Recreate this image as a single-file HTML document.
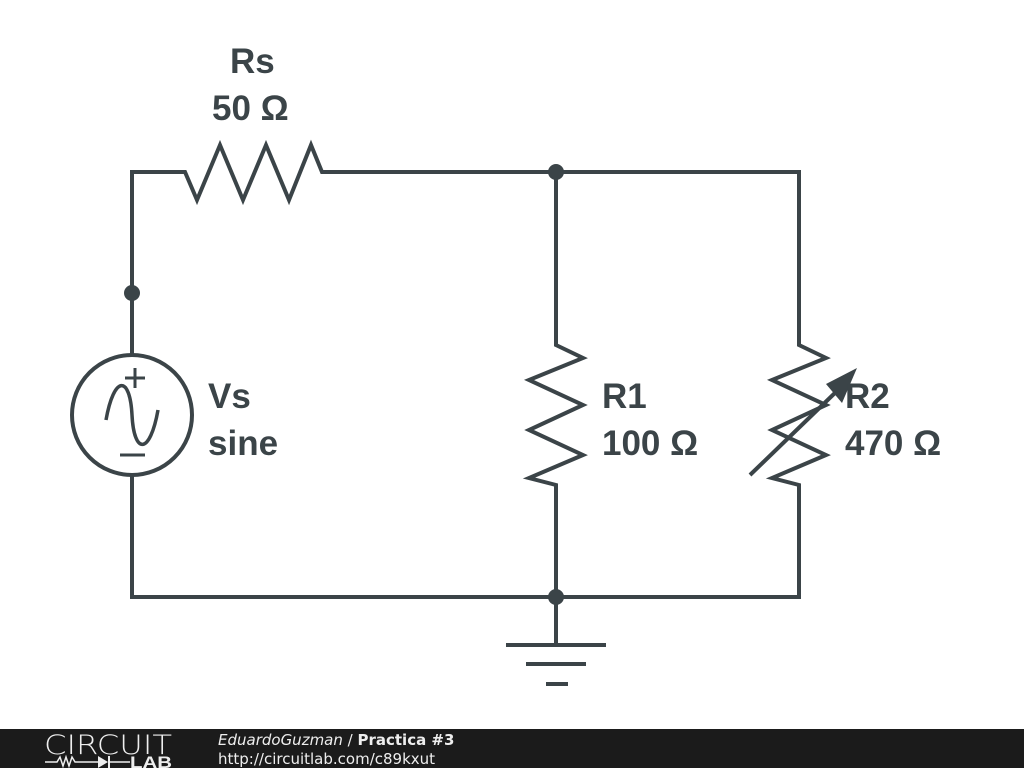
<!DOCTYPE html>
<html><head><style>
body{margin:0;width:1024px;height:768px;background:#fff;overflow:hidden;font-family:"Liberation Sans",sans-serif}
</style></head><body>
<svg width="1024" height="768" style="position:absolute;left:0;top:0">
<g fill="none" stroke="#3b4448" stroke-width="4" stroke-linejoin="miter">
<polyline points="132,355 132,172 185,172 197,200 220,145 243,200 266,145 289,200 311,145 322,172 799,172 799,345 826,358 772,380 826,405 772,430 826,455 772,478 799,485 799,597 132,597 132,475"/>
<polyline points="556,172 556,345 583,358 529,380 583,405 529,430 583,455 529,478 556,485 556,645"/>
<circle cx="132" cy="415" r="60"/>
<path d="M106,420 C114,375 130,375 132,415 C134,455 150,455 158,410" stroke-width="3.5"/>
<line x1="125" y1="378" x2="145" y2="378" stroke-width="3"/><line x1="135" y1="368" x2="135" y2="388" stroke-width="3"/>
<line x1="120" y1="455" x2="145" y2="455" stroke-width="3"/>
<line x1="506" y1="645" x2="606" y2="645"/>
<line x1="526" y1="664" x2="586" y2="664"/>
<line x1="546" y1="684" x2="568" y2="684"/>
<line x1="750" y1="475" x2="838" y2="390"/>
</g>
<polygon points="857,368 826,384 842,403" fill="#3b4448"/>
<g fill="#3b4448"><circle cx="132" cy="293" r="8"/><circle cx="556" cy="172" r="8"/><circle cx="556" cy="597" r="8"/></g>
<g fill="#3b4448" font-weight="bold" font-size="35px" font-family="Liberation Sans,sans-serif">
<text x="230" y="73">Rs</text><text x="212" y="120">50 Ω</text>
<text x="208" y="408">Vs</text><text x="208" y="455">sine</text>
<text x="602" y="408">R1</text><text x="602" y="455">100 Ω</text>
<text x="845" y="408">R2</text><text x="845" y="455">470 Ω</text>
</g>
<rect x="0" y="729" width="1024" height="39" fill="#1b1b1b"/>
<text x="44" y="754" fill="#eee" font-size="27" font-family="DejaVu Sans,sans-serif" font-weight="200" textLength="128" lengthAdjust="spacingAndGlyphs">CIRCUIT</text>
<polyline points="45,762 57,762 60,757 63,766 66,757 69,766 72,757 75,762 98,762" fill="none" stroke="#eee" stroke-width="1.5"/>
<polygon points="98,756 98,768 108,762" fill="#eee"/>
<line x1="109" y1="756" x2="109" y2="768" stroke="#eee" stroke-width="2"/>
<line x1="109" y1="762" x2="130" y2="762" stroke="#eee" stroke-width="1.5"/>
<text x="130" y="768" fill="#eee" font-size="17" font-weight="bold" font-family="Liberation Sans,sans-serif" textLength="42" lengthAdjust="spacingAndGlyphs">LAB</text>
<text x="218" y="745" fill="#eee" font-size="15" font-family="DejaVu Sans,sans-serif"><tspan font-style="italic">EduardoGuzman</tspan> / <tspan font-weight="bold">Practica #3</tspan></text>
<text x="218" y="764" fill="#eee" font-size="15" font-family="DejaVu Sans,sans-serif">http://circuitlab.com/c89kxut</text>
</svg>
</body></html>
